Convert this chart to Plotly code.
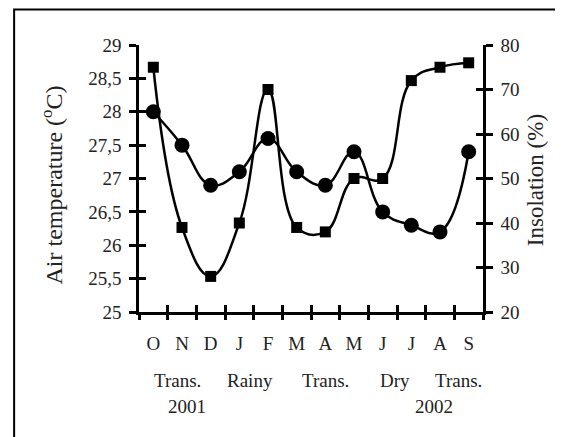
import plotly.graph_objects as go

months = ["O", "N", "D", "J", "F", "M", "A", "M", "J", "J", "A", "S"]
air_temperature = [28.0, 27.5, 26.9, 27.1, 27.6, 27.1, 26.9, 27.4, 26.5, 26.3, 26.2, 27.4]
insolation = [75, 39, 28, 40, 70, 39, 38, 50, 50, 72, 75, 76]
seasons = ["Trans.", "Rainy", "Trans.", "Dry", "Trans."]
season_pos = [1.33, 3.87, 6.52, 8.93, 11.16]
years = ["2001", "2002"]
year_pos = [1.67, 10.29]

FONT = "Liberation Serif, Times New Roman, serif"
x_centers = [i + 0.5 for i in range(len(months))]
boundaries = list(range(len(months) + 1))

fig = go.Figure()
fig.add_trace(go.Scatter(
    x=x_centers, y=air_temperature, mode="lines+markers",
    line=dict(color="black", width=2.5, shape="spline", smoothing=1.2),
    marker=dict(symbol="circle", size=15, color="black"),
    xaxis="x", yaxis="y", showlegend=False, cliponaxis=False))
fig.add_trace(go.Scatter(
    x=x_centers, y=insolation, mode="lines+markers",
    line=dict(color="black", width=2.5, shape="spline", smoothing=1.2),
    marker=dict(symbol="square", size=11, color="black"),
    xaxis="x", yaxis="y2", showlegend=False, cliponaxis=False))

tickfont = dict(family=FONT, size=19, color="#222")
common_line = dict(showline=True, linecolor="black", linewidth=2.5, showgrid=False, zeroline=False)

fig.update_layout(
    width=563, height=437,
    margin=dict(l=131, r=88, t=37, b=133, pad=0),
    paper_bgcolor="white", plot_bgcolor="white",
    separators=", ",
    font=dict(family=FONT, color="#222"),
    xaxis=dict(range=[0, 12], tickmode="array", tickvals=x_centers, ticktext=months,
               ticks="", tickfont=tickfont, ticklabelstandoff=12, **common_line),
    xaxis2=dict(range=[0, 12], overlaying="x", anchor="y", tickmode="array", tickvals=boundaries,
                ticks="outside", ticklen=7, tickwidth=2.5, tickcolor="black",
                showticklabels=False, showline=False, showgrid=False, zeroline=False),
    xaxis3=dict(range=[0, 12], overlaying="x", anchor="y", tickmode="array", tickvals=boundaries,
                ticks="inside", ticklen=7, tickwidth=2.5, tickcolor="black",
                showticklabels=False, showline=False, showgrid=False, zeroline=False),
    yaxis=dict(range=[25, 29], dtick=0.5, tick0=25, ticks="outside", ticklen=7, tickwidth=2.5,
               tickcolor="black", tickfont=tickfont, ticklabelstandoff=4, **common_line),
    yaxis3=dict(range=[25, 29], dtick=0.5, tick0=25, overlaying="y", anchor="x", side="left",
                ticks="inside", ticklen=7, tickwidth=2.5, tickcolor="black",
                showticklabels=False, showline=False, showgrid=False, zeroline=False),
    yaxis2=dict(range=[20, 80], dtick=10, tick0=20, overlaying="y", anchor="x", side="right",
                ticks="outside", ticklen=7, tickwidth=2.5, tickcolor="black",
                tickfont=tickfont, ticklabelstandoff=4, **common_line),
    yaxis4=dict(range=[20, 80], dtick=10, tick0=20, overlaying="y", anchor="x", side="right",
                ticks="inside", ticklen=7, tickwidth=2.5, tickcolor="black",
                showticklabels=False, showline=False, showgrid=False, zeroline=False),
)

# invisible helper traces so the tick-only overlay axes are drawn
for xa, ya in [("x2", "y"), ("x3", "y"), ("x", "y3"), ("x", "y4")]:
    fig.add_trace(go.Scatter(x=[None], y=[None], xaxis=xa, yaxis=ya, showlegend=False,
                             hoverinfo="skip"))

annotations = []
for txt, xp in zip(seasons, season_pos):
    annotations.append(dict(text=txt, x=xp, xref="x", y=-0.255, yref="paper",
                            showarrow=False, xanchor="center", yanchor="middle",
                            font=dict(family=FONT, size=19, color="#222")))
for txt, xp in zip(years, year_pos):
    annotations.append(dict(text=txt, x=xp, xref="x", y=-0.355, yref="paper",
                            showarrow=False, xanchor="center", yanchor="middle",
                            font=dict(family=FONT, size=19, color="#222")))
annotations.append(dict(text="Air temperature (<sup>o</sup>C)", x=-0.252, xref="paper",
                        y=0.475, yref="paper", textangle=-90, showarrow=False,
                        xanchor="center", yanchor="middle",
                        font=dict(family=FONT, size=24, color="#222")))
annotations.append(dict(text="Insolation (%)", x=1.155, xref="paper", y=0.495, yref="paper",
                        textangle=-90, showarrow=False, xanchor="center", yanchor="middle",
                        font=dict(family=FONT, size=23, color="#222")))
fig.update_layout(annotations=annotations)

fig.add_shape(type="rect", xref="paper", yref="paper", x0=-0.363, x1=1.6, y0=-1.0, y1=1.133,
              line=dict(color="black", width=2), fillcolor="rgba(0,0,0,0)", layer="below")

fig.write_html("out.html")
